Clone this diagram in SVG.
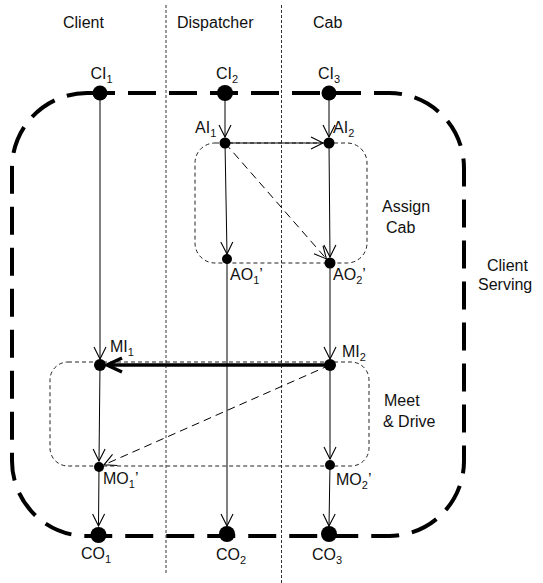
<svg xmlns="http://www.w3.org/2000/svg" width="543" height="583" viewBox="0 0 543 583">
<style>
text{font-family:"Liberation Sans",Arial,sans-serif;font-size:16px;fill:#111}
.sub{font-size:11px}
.lane{stroke:#333;stroke-width:1;stroke-dasharray:3 2;fill:none}
.box{stroke:#222;stroke-width:1;stroke-dasharray:4 3;fill:none}
.big{stroke:#000;stroke-width:4;stroke-dasharray:28 13;fill:none}
.c{stroke:#000;stroke-width:1;fill:none}
.d{stroke:#000;stroke-width:1;fill:none;stroke-dasharray:8 5}
.t{stroke:#000;stroke-width:3.5;fill:none}
.dot{fill:#000}
</style>
<defs>
<marker id="a" markerUnits="userSpaceOnUse" markerWidth="14" markerHeight="14" refX="12" refY="6" orient="auto" overflow="visible">
<path d="M0,0 L12,6 L0,12" fill="none" stroke="#000" stroke-width="1.1"/>
</marker>
<marker id="ta" markerUnits="userSpaceOnUse" markerWidth="18" markerHeight="18" refX="15" refY="7" orient="auto" overflow="visible">
<path d="M0,0 L15,7 L0,14" fill="none" stroke="#000" stroke-width="3.5"/>
</marker>
</defs>
<g id="client-serving">
<rect class="big" x="12" y="93" width="452" height="443" rx="75" ry="75"/>
<text x="487" y="271">Client</text>
<text x="478" y="290">Serving</text>
</g>
<g id="lanes">
<line class="lane" x1="166" y1="5" x2="166" y2="573"/>
<line class="lane" x1="281.5" y1="5" x2="281.5" y2="583"/>
<text x="63" y="28">Client</text>
<text x="177" y="28">Dispatcher</text>
<text x="313" y="28">Cab</text>
</g>
<g id="assign-cab">
<rect class="box" x="195" y="143" width="172" height="120" rx="20" ry="20"/>
<text x="382" y="212">Assign</text>
<text x="386" y="233">Cab</text>
</g>
<g id="meet-drive">
<rect class="box" x="50" y="362" width="319" height="104" rx="18" ry="18"/>
<text x="384" y="406">Meet</text>
<text x="383" y="427">&amp; Drive</text>
</g>
<g id="connectors">
<line class="c" x1="100" y1="93" x2="100" y2="359" marker-end="url(#a)"/>
<line class="c" x1="225" y1="93" x2="225" y2="137" marker-end="url(#a)"/>
<line class="c" x1="329" y1="93" x2="329" y2="137" marker-end="url(#a)"/>
<line class="c" x1="225" y1="143" x2="323" y2="143" marker-end="url(#a)"/>
<line class="c" x1="225" y1="143" x2="227" y2="254" marker-end="url(#a)"/>
<line class="c" x1="329" y1="143" x2="330" y2="257" marker-end="url(#a)"/>
<line class="d" x1="225" y1="143" x2="326.4" y2="258.9" marker-end="url(#a)"/>
<line class="c" x1="227" y1="259" x2="227" y2="526" marker-end="url(#a)"/>
<line class="c" x1="330" y1="263" x2="330" y2="359" marker-end="url(#a)"/>
<line class="t" x1="330" y1="365" x2="107" y2="365" marker-end="url(#ta)"/>
<line class="c" x1="100" y1="365" x2="99" y2="461" marker-end="url(#a)"/>
<line class="c" x1="330" y1="365" x2="330" y2="459" marker-end="url(#a)"/>
<line class="d" x1="330" y1="365" x2="104" y2="464.8" marker-end="url(#a)"/>
<line class="c" x1="99" y1="467" x2="98.5" y2="526" marker-end="url(#a)"/>
<line class="c" x1="330" y1="465" x2="329" y2="526" marker-end="url(#a)"/>
</g>
<g id="CI1"><circle class="dot" cx="100" cy="93" r="7.5"/><text x="90.5" y="79">CI<tspan class="sub" dy="4">1</tspan></text></g>
<g id="CI2"><circle class="dot" cx="225" cy="93" r="8"/><text x="216" y="79">CI<tspan class="sub" dy="4">2</tspan></text></g>
<g id="CI3"><circle class="dot" cx="329" cy="93" r="7.5"/><text x="318" y="79">CI<tspan class="sub" dy="4">3</tspan></text></g>
<g id="AI1"><circle class="dot" cx="225" cy="143" r="5.5"/><text x="195" y="133">AI<tspan class="sub" dy="4">1</tspan></text></g>
<g id="AI2"><circle class="dot" cx="329" cy="143" r="5.5"/><text x="333" y="133">AI<tspan class="sub" dy="4">2</tspan></text></g>
<g id="AO1"><circle class="dot" cx="227" cy="259" r="5"/><text x="230" y="280">AO<tspan class="sub" dy="4">1</tspan><tspan dy="-4">’</tspan></text></g>
<g id="AO2"><circle class="dot" cx="330" cy="263" r="5.5"/><text x="333" y="280">AO<tspan class="sub" dy="4">2</tspan><tspan dy="-4">’</tspan></text></g>
<g id="MI1"><circle class="dot" cx="100" cy="365" r="6"/><text x="110" y="352">MI<tspan class="sub" dy="4">1</tspan></text></g>
<g id="MI2"><circle class="dot" cx="330" cy="365" r="6"/><text x="342" y="357">MI<tspan class="sub" dy="4">2</tspan></text></g>
<g id="MO1"><circle class="dot" cx="99" cy="467" r="5"/><text x="103" y="484">MO<tspan class="sub" dy="4">1</tspan><tspan dy="-4">’</tspan></text></g>
<g id="MO2"><circle class="dot" cx="330" cy="465" r="5"/><text x="336" y="485">MO<tspan class="sub" dy="4">2</tspan><tspan dy="-4">’</tspan></text></g>
<g id="CO1"><circle class="dot" cx="98.5" cy="535" r="8"/><text x="81" y="559">CO<tspan class="sub" dy="4">1</tspan></text></g>
<g id="CO2"><circle class="dot" cx="227" cy="534" r="8"/><text x="216" y="560">CO<tspan class="sub" dy="4">2</tspan></text></g>
<g id="CO3"><circle class="dot" cx="329" cy="534" r="8"/><text x="312" y="560">CO<tspan class="sub" dy="4">3</tspan></text></g>
</svg>
